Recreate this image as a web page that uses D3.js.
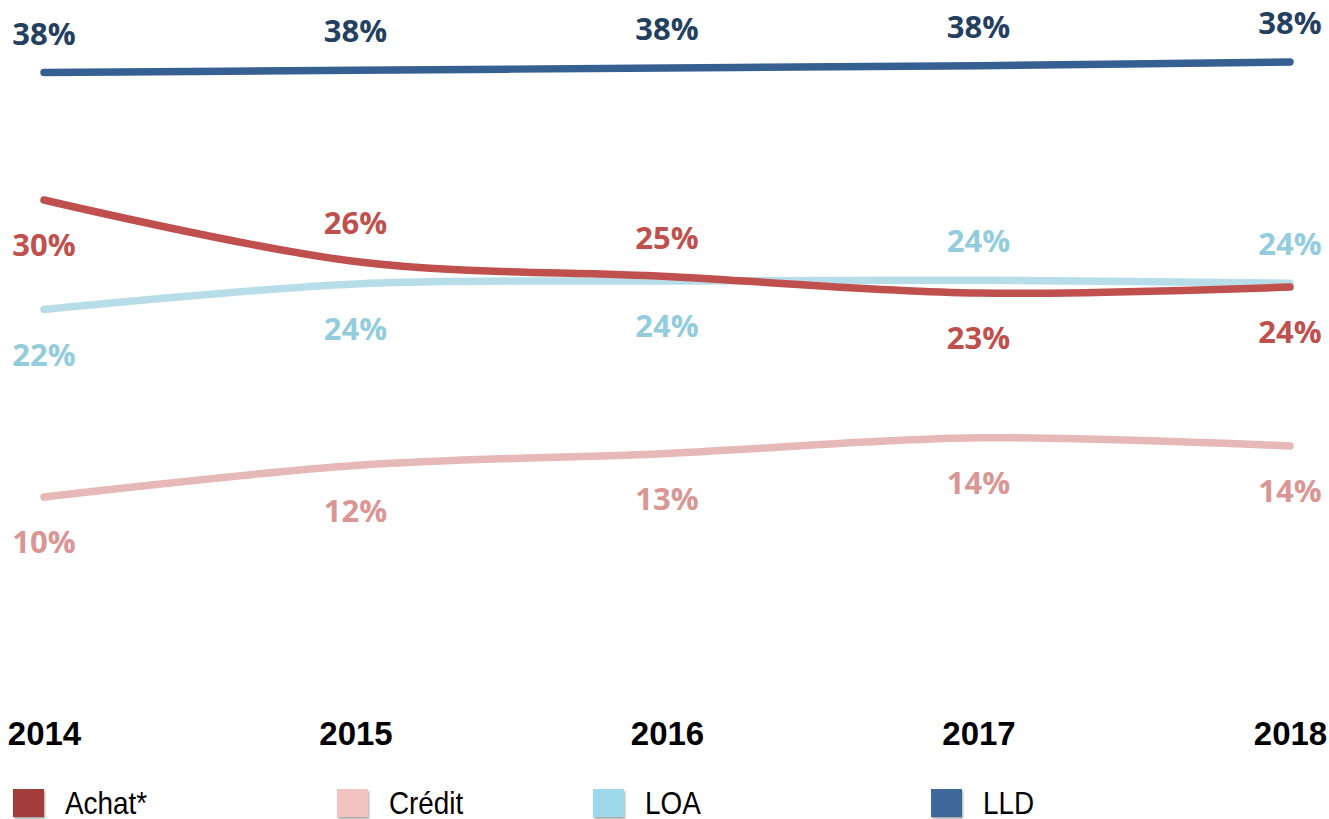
<!DOCTYPE html>
<html>
<head>
<meta charset="utf-8">
<script src="https://cdn.jsdelivr.net/npm/d3@7"></script>
<style>
  body { margin: 0; background: #fff; }
  svg { display: block; }
</style>
</head>
<body>
<svg id="chart" width="1329" height="819"></svg>
<script>
// years on the x axis
var years = ["2014", "2015", "2016", "2017", "2018"];

// values in %
var achat  = [29.8, 25.7, 24.7, 23.6, 24.0];
var credit = [10.0, 12.1, 12.9, 13.95, 13.4];
var loa    = [22.5, 24.2, 24.4, 24.45, 24.25];
var lld    = [38.3, 38.45, 38.6, 38.75, 39.0];

// labels as printed on the chart
var achatLabels  = ["30%", "26%", "25%", "23%", "24%"];
var creditLabels = ["10%", "12%", "13%", "14%", "14%"];
var loaLabels    = ["22%", "24%", "24%", "24%", "24%"];
var lldLabels    = ["38%", "38%", "38%", "38%", "38%"];

var legendNames = ["Achat*", "Crédit", "LOA", "LLD"];

var svg = d3.select("#chart");

var x = d3.scalePoint().domain(years).range([44, 1290]);
var y = d3.scaleLinear().domain([10, 38]).range([497, 77]);

// a = label over the line, b = under it
var series = [
  {name: "Crédit", values: credit, labels: creditLabels, line: "#e6b9b8", text: "#d99694",
   side: ["b", "b", "b", "b", "b"]},
  {name: "LOA", values: loa, labels: loaLabels, line: "#b7dee8", text: "#93cddd",
   side: ["b", "b", "b", "a", "a"]},
  {name: "Achat*", values: achat, labels: achatLabels, line: "#c0504d", text: "#c0504d",
   side: ["b", "a", "a", "b", "b"]},
  {name: "LLD", values: lld, labels: lldLabels, line: "#376092", text: "#243f60",
   side: ["a", "a", "a", "a", "a"]}
];

var line = d3.line()
  .x(function(d, i) { return x(years[i]); })
  .y(function(d) { return y(d); })
  .curve(d3.curveCatmullRom.alpha(0));

svg.append("g")
  .selectAll("path")
  .data(series)
  .enter()
  .append("path")
  .attr("d", function(s) { return line(s.values); })
  .attr("fill", "none")
  .attr("stroke", function(s) { return s.line; })
  .attr("stroke-width", 7.5)
  .attr("stroke-linecap", "round");

// data labels
series.forEach(function(s) {
  svg.append("g")
    .selectAll("text")
    .data(s.values)
    .enter()
    .append("text")
    .attr("x", function(d, i) { return x(years[i]); })
    .attr("y", function(d, i) { return s.side[i] == "a" ? y(d) - 28 : y(d) + 56; })
    .attr("text-anchor", "middle")
    .attr("font-family", "'Open Sans', sans-serif")
    .attr("font-weight", "bold")
    .attr("font-size", 31)
    .attr("fill", s.text)
    .text(function(d, i) { return s.labels[i]; });
});

// year axis labels
var xAxis = d3.axisBottom(x).tickSize(0).tickPadding(0);
var ax = svg.append("g")
  .attr("transform", "translate(0,721)")
  .call(xAxis);
ax.select(".domain").remove();
ax.selectAll("text")
  .attr("dy", 0)
  .attr("y", 24)
  .attr("font-family", "'Liberation Sans', Arial, sans-serif")
  .attr("font-weight", "bold")
  .attr("font-size", 33)
  .attr("fill", "#000");

// legend
var legendColors = ["#a33d3a", "#f2c3c3", "#9dd9eb", "#3c6899"];
var legendX = [13, 337, 593, 931];

var defs = svg.append("defs");
var f = defs.append("filter").attr("id", "sh").attr("x", "-20%").attr("y", "-20%")
  .attr("width", "150%").attr("height", "150%");
f.append("feDropShadow").attr("dx", 1).attr("dy", 2).attr("stdDeviation", 1.2)
  .attr("flood-color", "#000").attr("flood-opacity", 0.35);

var leg = svg.append("g")
  .selectAll("g")
  .data(legendNames)
  .enter()
  .append("g")
  .attr("transform", function(d, i) { return "translate(" + legendX[i] + ",789)"; });

leg.append("rect")
  .attr("width", 31)
  .attr("height", 28)
  .attr("fill", function(d, i) { return legendColors[i]; })
  .attr("filter", "url(#sh)");

// narrow look of the legend font
leg.append("text")
  .attr("transform", "translate(52,25) scale(0.87,1)")
  .attr("font-family", "'Liberation Sans', Arial, sans-serif")
  .attr("font-size", 32)
  .attr("fill", "#000")
  .text(function(d) { return d; });
</script>
</body>
</html>
